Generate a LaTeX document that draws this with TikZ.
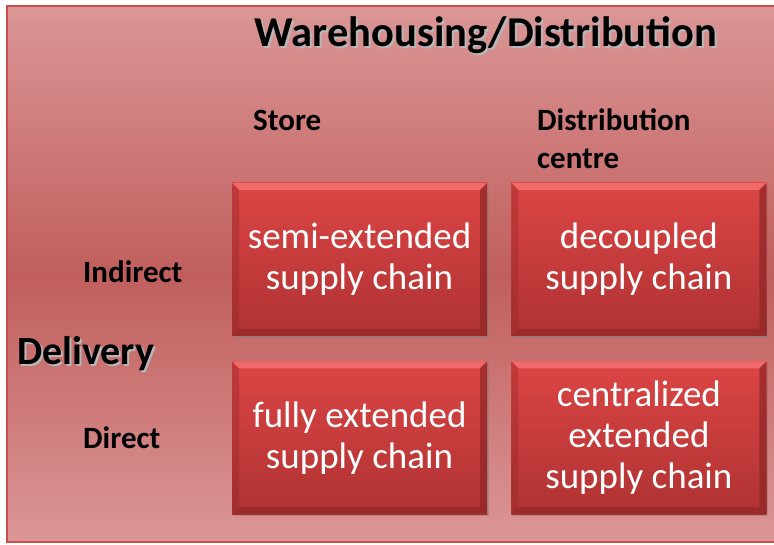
\documentclass[tikz,border=0pt]{standalone}
\usepackage{fontspec}
\setmainfont{Carlito}
\usetikzlibrary{positioning, shadows}
\definecolor{bgtop}{HTML}{DB9696}
\definecolor{bgmid}{HTML}{C05F5D}
\definecolor{bgedge}{HTML}{C84E4E}
\definecolor{boxtop}{HTML}{DC4545}
\definecolor{boxbot}{HTML}{AF3232}
\definecolor{bevellight}{HTML}{F06A6A}
\definecolor{beveldark}{HTML}{8E2626}
% heading with a soft grey shadow behind it
\newcommand{\shadowed}[1]{\makebox[0pt][l]{\hspace{2pt}\raisebox{-2pt}{\color{black!28}#1}}#1}
\tikzset{
x=1pt, y=-1pt, % pixel coordinates of the sketch
node distance=24pt, % gap between the cells
cellbox/.style={minimum width=255pt, minimum height=153pt, inner sep=0pt,
  top color=boxtop, bottom color=boxbot, text=white, align=center,
  font=\fontsize{37}{41}\selectfont,
  drop shadow={shadow xshift=2pt, shadow yshift=-2pt, opacity=.45},
  path picture={
    \fill[bevellight] (path picture bounding box.north west) -- (path picture bounding box.north east)
      -- ([xshift=-7pt,yshift=-7pt]path picture bounding box.north east) -- ([xshift=7pt,yshift=-7pt]path picture bounding box.north west) -- cycle;
    \fill[beveldark, opacity=.6] (path picture bounding box.south west) -- (path picture bounding box.south east)
      -- ([xshift=-7pt,yshift=7pt]path picture bounding box.south east) -- ([xshift=7pt,yshift=7pt]path picture bounding box.south west) -- cycle;
    \fill[beveldark, opacity=.35] (path picture bounding box.north west) -- ([xshift=7pt,yshift=-7pt]path picture bounding box.north west)
      -- ([xshift=7pt,yshift=7pt]path picture bounding box.south west) -- (path picture bounding box.south west) -- cycle;
    \fill[beveldark, opacity=.7] (path picture bounding box.north east) -- ([xshift=-7pt,yshift=-7pt]path picture bounding box.north east)
      -- ([xshift=-7pt,yshift=7pt]path picture bounding box.south east) -- (path picture bounding box.south east) -- cycle;
  }},
axislabel/.style={font=\bfseries\fontsize{31}{38}\selectfont, inner sep=0pt, align=left},
headlabel/.style={font=\bfseries\fontsize{#1}{#1}\selectfont, inner sep=0pt},
}
\begin{document}
\begin{tikzpicture}
    \useasboundingbox (0,0) rectangle (774,545);
    % background panel
    \begin{scope}
        \clip (0,0) rectangle (774,545);
        \shade[top color=bgtop, bottom color=bgtop, middle color=bgmid, draw=bgedge, line width=1.5pt]
            (7,6) rectangle (790,542);
    \end{scope}

    % headings
    \node[headlabel=42.5] (title) at (486,36) {\shadowed{Warehousing/Distribution}};
    \node[headlabel=40, anchor=west] (delivery) at (17,355) {\shadowed{Delivery}};

    % column and row labels
    \node[axislabel, anchor=west] (store) at (253,120) {Store};
    \node[axislabel, anchor=north west] (dc) at (537,109) {Distribution\\centre};
    \node[axislabel, anchor=west] (indirect) at (83,272) {Indirect};
    \node[axislabel, anchor=west] (direct) at (83,438) {Direct};

    % the four cells
    \node[cellbox] (semi) at (359.5,259.5) {semi-extended\\supply chain};
    \node[cellbox, right=of semi] (decoupled) {decoupled\\supply chain};
    \node[cellbox, below=25pt of semi] (fully) {fully extended\\supply chain};
    \node[cellbox, right=of fully] (central) {centralized\\extended\\supply chain};
\end{tikzpicture}
\end{document}
